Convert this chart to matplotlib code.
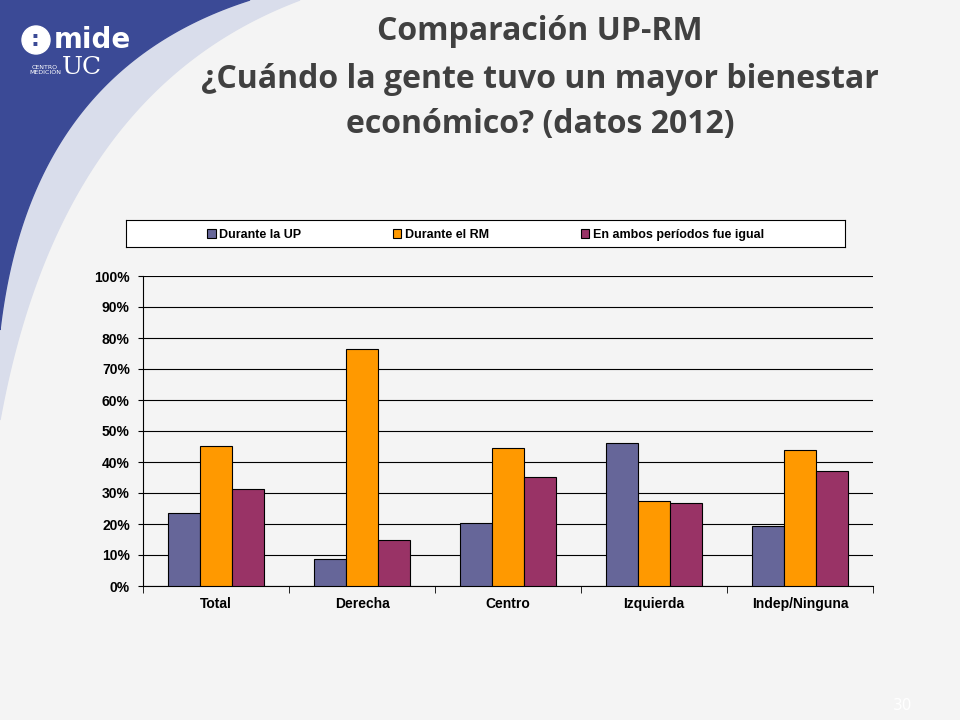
import matplotlib
matplotlib.use("Agg")
import matplotlib.pyplot as plt
import numpy as np
from matplotlib.patches import Polygon

categories = ["Total", "Derecha", "Centro", "Izquierda", "Indep/Ninguna"]
series_names = ["Durante la UP", "Durante el RM", "En ambos períodos fue igual"]
up = [23.5, 8.7, 20.3, 46.1, 19.4]
rm = [45.2, 76.5, 44.5, 27.4, 43.9]
igual = [31.3, 14.8, 35.2, 26.8, 37.1]
colors = ["#666699", "#FF9900", "#993366"]

W, H = 960, 720
fig = plt.figure(figsize=(9.6, 7.2), dpi=100)
fig.patch.set_facecolor("#F4F4F4")

def bez(p0, c, p1, n=80):
    t = np.linspace(0, 1, n)[:, None]
    p0, c, p1 = map(np.array, (p0, c, p1))
    return (1 - t) ** 2 * p0 + 2 * (1 - t) * t * c + t ** 2 * p1

bg = fig.add_axes([0, 0, 1, 1], zorder=0)
bg.set_xlim(0, W); bg.set_ylim(H, 0); bg.axis("off")
outer = bez((300, 0), (60, 90), (0, 420))
bg.add_patch(Polygon(np.vstack([outer, [[0, 0]]]), closed=True, color="#D9DDEB", zorder=0))
inner = bez((250, 0), (30, 70), (0, 330))
bg.add_patch(Polygon(np.vstack([inner, [[0, 0]]]), closed=True, color="#3B4A96", zorder=1))
bg.add_patch(plt.Circle((36, 40), 14, color="white", zorder=2))
bg.text(35, 40, ":", color="#3B4A96", fontsize=16, fontweight="bold", ha="center", va="center", zorder=3)
bg.text(54, 40, "mide", color="white", fontsize=20, fontweight="bold", ha="left", va="center", family="DejaVu Sans")
bg.text(82, 68, "UC", color="white", fontsize=18, ha="center", va="center", family="DejaVu Serif")
bg.text(45, 70, "CENTRO\nMEDICIÓN", color="white", fontsize=4.5, ha="center", va="center")
bg.text(903, 705, "30", color="white", fontsize=11, ha="center", va="center")

fig.text(540/W, 1 - 32/H, "Comparación UP-RM", ha="center", va="center", fontsize=23, fontweight="bold", color="#404040", family="Open Sans")
fig.text(540/W, 1 - 102/H, "¿Cuándo la gente tuvo un mayor bienestar\neconómico? (datos 2012)", ha="center", va="center", fontsize=23, fontweight="bold", color="#404040", family="Open Sans", linespacing=1.45)

ax = fig.add_axes([143/W, 1 - 586/H, (873-143)/W, (586-276)/H], zorder=2)
ax.set_facecolor("none")
x = np.arange(len(categories))
w = 0.22
for i, (vals, c, n) in enumerate(zip([up, rm, igual], colors, series_names)):
    ax.bar(x + (i - 1) * w, vals, w, color=c, edgecolor="black", linewidth=0.8, label=n, zorder=3)
ax.set_xlim(-0.5, len(categories) - 0.5)
ax.set_ylim(0, 100)
ax.set_yticks(range(0, 101, 10))
ax.set_yticklabels([f"{v}%" for v in range(0, 101, 10)], fontsize=10, fontweight="bold", family="Liberation Sans")
ax.set_xticks(x)
ax.set_xticklabels(categories, fontsize=10, fontweight="bold", family="Liberation Sans")
ax.set_xticks(np.arange(-0.5, len(categories)), minor=True)
ax.tick_params(axis="x", which="major", length=0, pad=8)
ax.tick_params(axis="x", which="minor", length=5)
ax.tick_params(axis="y", pad=6)
ax.grid(axis="y", color="black", linewidth=0.8, zorder=0)
for s in ["top", "right"]:
    ax.spines[s].set_visible(False)

lax = fig.add_axes([126/W, 1 - 247/H, (845-126)/W, 27/H], zorder=2)
lax.set_facecolor("white")
lax.set_xticks([]); lax.set_yticks([])
for s in lax.spines.values():
    s.set_linewidth(0.8)
handles, labels = ax.get_legend_handles_labels()
lax.legend(handles, labels, loc="center", bbox_to_anchor=(0.5, 0.45), ncol=3, frameon=False,
           prop={"size": 9, "weight": "bold", "family": "Liberation Sans"},
           handlelength=0.7, handleheight=0.7, columnspacing=7.3, handletextpad=0.3)

fig.savefig("out.png", dpi=100, facecolor=fig.get_facecolor())
